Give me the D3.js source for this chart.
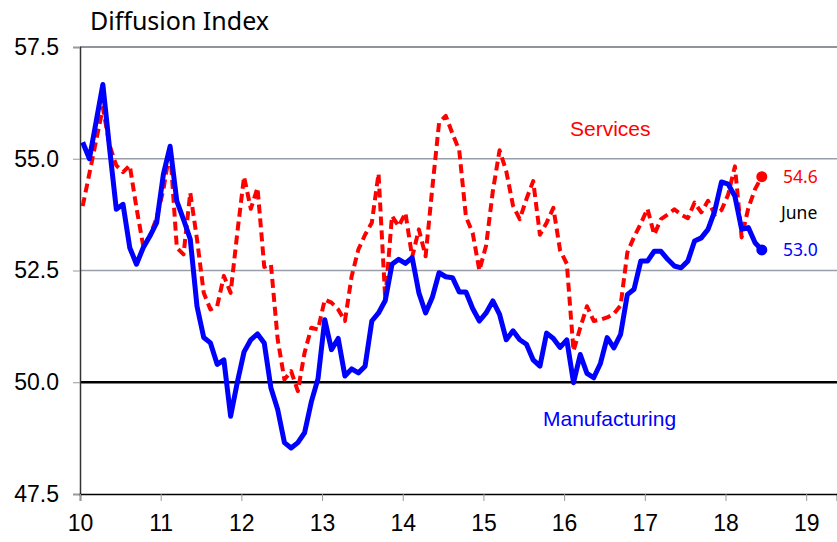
<!DOCTYPE html>
<html>
<head>
<meta charset="utf-8">
<script src="https://cdn.jsdelivr.net/npm/d3@7"></script>
<style>
  html, body { margin: 0; padding: 0; background: #fff; }
  svg { display: block; }
</style>
</head>
<body>
<svg id="chart" width="837" height="542"></svg>
<script>
// Monthly diffusion index, Jan 2010 (index 0) to Jun 2018 (index 101)
const startYear = 10;
const manufacturing = [
  55.37, 55.00, 55.83, 56.66, 55.23, 53.87, 53.98, 53.01, 52.64, 53.01, 53.27, 53.57,
  54.65, 55.28, 54.05, 53.64, 53.20, 51.70, 51.00, 50.88, 50.40, 50.50, 49.24, 50.00,
  50.68, 50.95, 51.08, 50.88, 49.87, 49.39, 48.65, 48.53, 48.65, 48.87, 49.56, 50.08,
  51.40, 50.73, 50.98, 50.14, 50.30, 50.21, 50.36, 51.37, 51.55, 51.83, 52.64, 52.75,
  52.66, 52.79, 52.00, 51.55, 51.90, 52.45, 52.36, 52.34, 52.02, 52.02, 51.65, 51.37,
  51.55, 51.82, 51.52, 50.95, 51.15, 50.95, 50.85, 50.50, 50.36, 51.10, 50.98, 50.78,
  50.95, 49.99, 50.62, 50.20, 50.10, 50.42, 51.00, 50.77, 51.07, 51.96, 52.08, 52.71,
  52.71, 52.93, 52.93, 52.75, 52.60, 52.56, 52.71, 53.16, 53.23, 53.42, 53.83, 54.48,
  54.43, 54.16, 53.42, 53.46, 53.12, 52.96
];
const services = [
  53.94, 54.67, 55.41, 56.14, 55.30, 54.85, 54.70, 54.85, 53.90, 53.05, 53.27, 53.68,
  54.31, 55.21, 53.01, 52.86, 54.24, 53.20, 52.00, 51.63, 51.70, 52.38, 52.00, 53.35,
  54.60, 53.88, 54.35, 52.58, 52.63, 50.96, 50.06, 50.25, 49.80, 50.66, 51.22, 51.18,
  51.85, 51.78, 51.63, 51.37, 52.37, 52.97, 53.30, 53.57, 54.67, 51.85, 53.72, 53.49,
  53.79, 52.80, 53.42, 52.82, 54.35, 55.80, 55.96, 55.56, 55.19, 53.70, 53.34, 52.50,
  53.06, 54.28, 55.19, 54.72, 53.95, 53.65, 54.10, 54.50, 53.30, 53.57, 53.90, 52.95,
  52.65, 50.70, 51.22, 51.70, 51.37, 51.40, 51.45, 51.53, 51.72, 52.90, 53.25, 53.55,
  53.88, 53.30, 53.65, 53.75, 53.87, 53.75, 53.67, 54.02, 53.80, 54.06, 53.75, 53.85,
  54.20, 54.83, 53.24, 53.90, 54.32, 54.60
];
const xTicks = [10, 11, 12, 13, 14, 15, 16, 17, 18, 19];
const yTicks = [47.5, 50.0, 52.5, 55.0, 57.5];
const title = "Diffusion Index";
const lastLabel = "June";

const svg = d3.select("#chart");
const x = d3.scaleLinear().domain([10, 19.382]).range([80, 837]);
const y = d3.scaleLinear().domain([47.5, 57.5]).range([494, 47]);
const t = i => startYear + (i + 0.4) / 12;

// gridlines
svg.append("g").selectAll("line")
  .data(yTicks.filter(v => v !== 47.5))
  .join("line")
  .attr("x1", 80).attr("x2", 837)
  .attr("y1", d => y(d)).attr("y2", d => y(d))
  .attr("stroke", d => d === 50 ? "#000" : (d === 57.5 ? "#6b6f78" : "#9a9ea8"))
  .attr("stroke-width", d => d === 50 ? 2.5 : 1.5);

// y axis
const yAxis = d3.axisLeft(y).tickValues(yTicks).tickFormat(d3.format(".1f")).tickSize(7).tickPadding(14);
const gy = svg.append("g").attr("transform", "translate(80,0)").call(yAxis);
gy.select(".domain").attr("stroke", "#333").attr("stroke-width", 1.5);
gy.selectAll(".tick line").attr("stroke", "#999").attr("stroke-width", 1);
gy.selectAll("text").attr("font-family", "Liberation Sans, Arial, sans-serif").attr("font-size", 23).attr("fill", "#000");

// x axis
const xAxis = d3.axisBottom(x).tickValues(xTicks).tickFormat(d3.format("d")).tickSize(7).tickPadding(14);
const gx = svg.append("g").attr("transform", "translate(0,494)").call(xAxis);
gx.select(".domain").attr("stroke", "#000").attr("stroke-width", 1.5);
gx.selectAll(".tick line").attr("stroke", "#999").attr("stroke-width", 1);
gx.selectAll("text").attr("font-family", "Liberation Sans, Arial, sans-serif").attr("font-size", 23).attr("fill", "#000");

// lines
const line = d3.line().x((d, i) => x(t(i))).y(d => y(d)).curve(d3.curveLinear);
svg.append("path").datum(services)
  .attr("fill", "none").attr("stroke", "#ff0000").attr("stroke-width", 4)
  .attr("stroke-dasharray", "9,5").attr("stroke-linejoin", "round").attr("d", line);
svg.append("path").datum(manufacturing)
  .attr("fill", "none").attr("stroke", "#0000ff").attr("stroke-width", 5)
  .attr("stroke-linejoin", "round").attr("d", line);

// end markers
const li = manufacturing.length - 1;
svg.append("circle").attr("cx", x(t(li))).attr("cy", y(services[li])).attr("r", 5.5).attr("fill", "#ff0000");
svg.append("circle").attr("cx", x(t(li))).attr("cy", y(manufacturing[li])).attr("r", 5.5).attr("fill", "#0000ff");

const endFont = "Noto Sans, Segoe UI, sans-serif";
svg.append("text").attr("x", 783).attr("y", y(services[li]) + 6)
  .attr("font-family", endFont).attr("font-size", 17.5).attr("fill", "#ff0000")
  .text(d3.format(".1f")(services[li]));
svg.append("text").attr("x", 783).attr("y", y(manufacturing[li]) + 6)
  .attr("font-family", endFont).attr("font-size", 17.5).attr("fill", "#0000ff")
  .text(d3.format(".1f")(manufacturing[li]));
svg.append("text").attr("x", 781).attr("y", 219)
  .attr("font-family", endFont).attr("font-size", 17.5).attr("fill", "#000")
  .text(lastLabel);

// series labels
svg.append("text").attr("x", 570).attr("y", 136)
  .attr("font-family", "Liberation Sans, Arial, sans-serif").attr("font-size", 21).attr("fill", "#ff0000")
  .text("Services");
svg.append("text").attr("x", 543).attr("y", 426)
  .attr("font-family", "Liberation Sans, Arial, sans-serif").attr("font-size", 21).attr("fill", "#0000ff")
  .text("Manufacturing");

// title
svg.append("text").attr("x", 90).attr("y", 30)
  .attr("font-family", "Noto Sans, Segoe UI, sans-serif").attr("font-size", 25).attr("fill", "#000")
  .text(title);
</script>
</body>
</html>
